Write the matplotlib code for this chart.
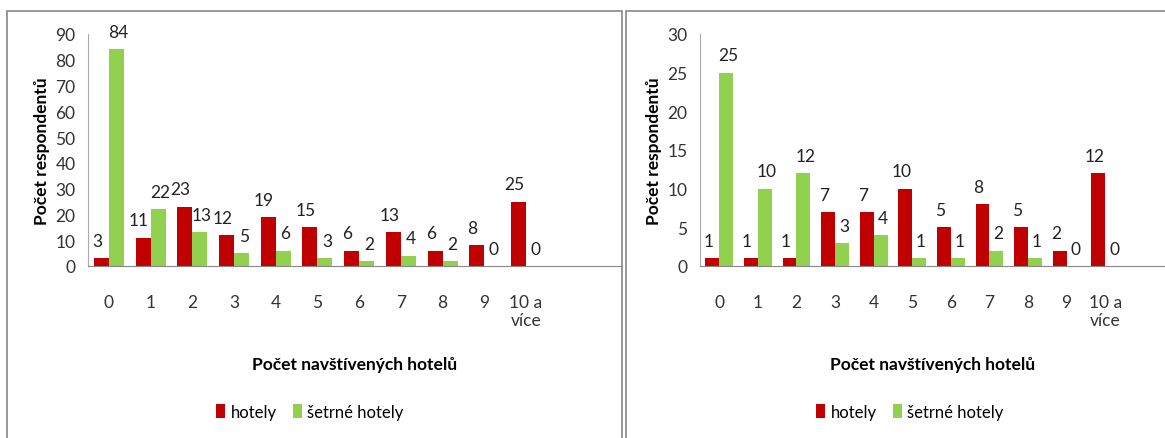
import numpy as np
import matplotlib.pyplot as plt
from matplotlib.patches import Rectangle

categories = ['0', '1', '2', '3', '4', '5', '6', '7', '8', '9', '10 a\nvíce']

left_hotely = [3, 11, 23, 12, 19, 15, 6, 13, 6, 8, 25]
left_setrne = [84, 22, 13, 5, 6, 3, 2, 4, 2, 0, 0]

right_hotely = [1, 1, 1, 7, 7, 10, 5, 8, 5, 2, 12]
right_setrne = [25, 10, 12, 3, 4, 1, 1, 2, 1, 0, 0]

RED = '#C00000'
GREEN = '#92D050'
W, H = 1165, 439

plt.rcParams['font.family'] = ['Lato', 'DejaVu Sans']
fig = plt.figure(figsize=(W / 100, H / 100), dpi=100)


def px_axes(x0, x1, ytop, ybot):
    return fig.add_axes([x0 / W, 1 - ybot / H, (x1 - x0) / W, (ybot - ytop) / H])


def draw_panel(ax, hot, setr, ymax, step, xmax, legend_x):
    x = np.arange(len(categories))
    bw = 0.36
    b1 = ax.bar(x - bw / 2, hot, bw, color=RED, label='hotely')
    b2 = ax.bar(x + bw / 2, setr, bw, color=GREEN, label='šetrné hotely')
    off = ymax * 0.04
    for xi, v in zip(x, hot):
        ax.text(xi - bw / 2 - 0.1, v + off, str(v), ha='center', va='bottom', fontsize=12.5, color='#222222')
    for xi, v in zip(x, setr):
        ax.text(xi + bw / 2 + 0.05, v + off, str(v), ha='center', va='bottom', fontsize=12.5, color='#222222')
    ax.set_ylim(0, ymax)
    ax.set_yticks(np.arange(0, ymax + 1, step))
    ax.set_xlim(-0.5, xmax)
    ax.set_xticks(x)
    ax.set_xticklabels(categories, fontsize=12.5, color='#333333', linespacing=1.2)
    ax.tick_params(axis='x', length=0, pad=20)
    ax.tick_params(axis='y', length=0, pad=9, labelsize=12.5, labelcolor='#333333')
    for s in ['top', 'right']:
        ax.spines[s].set_visible(False)
    ax.spines['left'].set_color('#AAAAAA')
    ax.spines['bottom'].set_color('#888888')
    ax.set_ylabel('Počet respondentů', fontsize=12.5, fontweight='bold', labelpad=4)
    ax.set_xlabel('Počet navštívených hotelů', fontsize=12.5, fontweight='bold', labelpad=20)
    fig.legend(handles=[b1, b2], loc='center', bbox_to_anchor=(legend_x / W, 1 - 413 / H),
               ncol=2, frameon=False, fontsize=12, handlelength=0.55, handleheight=0.9,
               handletextpad=0.3, columnspacing=1.0)


ax1 = px_axes(88, 622, 35, 267)
draw_panel(ax1, left_hotely, left_setrne, 90, 10, 12.3, 310)

ax2 = px_axes(700, 1165, 35, 267)
draw_panel(ax2, right_hotely, right_setrne, 30, 5, 11.55, 910)

# panel frames
fig.patches.append(Rectangle((7 / W, -0.1), (622 - 7) / W, 1.1 - 12 / H, transform=fig.transFigure,
                             fill=False, edgecolor='#888888', lw=1.2))
fig.patches.append(Rectangle((626 / W, -0.1), 1, 1.1 - 12 / H, transform=fig.transFigure,
                             fill=False, edgecolor='#888888', lw=1.2))

fig.savefig('out.png', dpi=100)
